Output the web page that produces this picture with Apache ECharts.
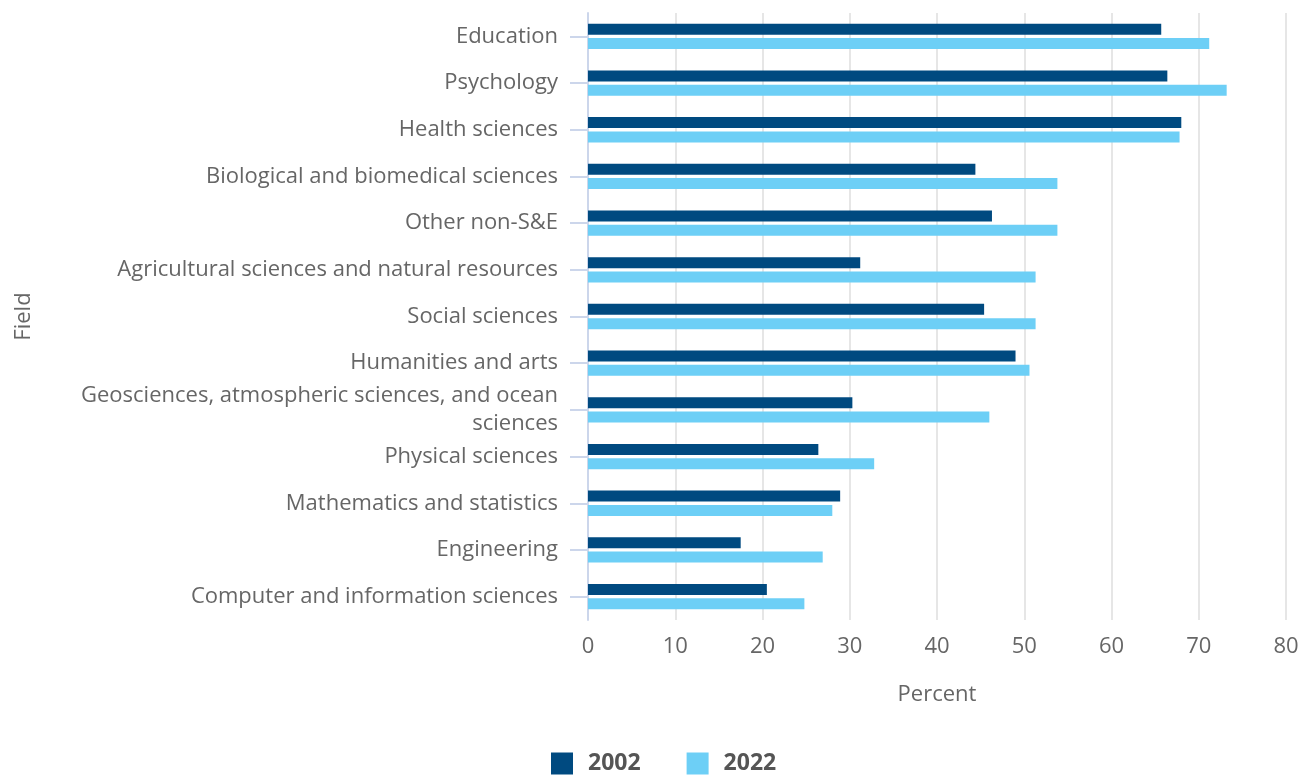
<!DOCTYPE html>
<html>
<head>
<meta charset="utf-8">
<script src="https://cdn.jsdelivr.net/npm/echarts@6/dist/echarts.min.js"></script>
<style>
html,body{margin:0;padding:0;background:#fff;}
#c{width:1311px;height:775px;}
</style>
</head>
<body>
<div id="c"></div>
<script>
const categories = [
  "Education",
  "Psychology",
  "Health sciences",
  "Biological and biomedical sciences",
  "Other non-S&E",
  "Agricultural sciences and natural resources",
  "Social sciences",
  "Humanities and arts",
  "Geosciences, atmospheric sciences, and ocean sciences",
  "Physical sciences",
  "Mathematics and statistics",
  "Engineering",
  "Computer and information sciences"
];
const values2002 = [65.7, 66.4, 68.0, 44.4, 46.3, 31.2, 45.4, 49.0, 30.3, 26.4, 28.9, 17.5, 20.5];
const values2022 = [71.2, 73.2, 67.8, 53.8, 53.8, 51.3, 51.3, 50.6, 46.0, 32.8, 28.0, 26.9, 24.8];
const seriesNames = ["2002", "2022"];

const FONT = "'Open Sans', 'Noto Sans', sans-serif";
const chart = echarts.init(document.getElementById('c'), null, {renderer: 'canvas'});

function wrapLabel(s) {
  const max = 45;
  if (s.length <= max) return s;
  const idx = s.lastIndexOf(' ', max);
  return s.slice(0, idx) + '\n' + s.slice(idx + 1);
}

chart.setOption({
  animation: false,
  grid: {left: 588, right: 25, top: 13, bottom: 155, containLabel: false},
  legend: {
    top: 747,
    left: 546,
    itemWidth: 22,
    itemHeight: 22,
    itemGap: 46,
    icon: 'rect',
    textStyle: {fontFamily: FONT, fontSize: 23, fontWeight: 'bold', color: '#555', padding: [0, 0, 0, 10]},
    data: seriesNames
  },
  xAxis: {
    type: 'value',
    min: 0, max: 80, interval: 10,
    name: 'Percent',
    nameLocation: 'middle',
    nameGap: 64,
    nameTextStyle: {fontFamily: FONT, fontSize: 22, color: '#666'},
    axisLine: {show: false},
    axisTick: {show: false},
    axisLabel: {fontFamily: FONT, fontSize: 22, color: '#666', margin: 16},
    splitLine: {show: true, lineStyle: {color: '#e6e6e6', width: 2}}
  },
  yAxis: {
    type: 'category',
    inverse: true,
    data: categories,
    name: 'Field',
    nameLocation: 'middle',
    nameGap: 553,
    nameRotate: 90,
    nameTextStyle: {fontFamily: FONT, fontSize: 22, color: '#666'},
    axisLine: {show: true, lineStyle: {color: '#ccd6eb', width: 2}},
    axisTick: {show: true, alignWithLabel: true, length: 18, lineStyle: {color: '#ccd6eb', width: 2}},
    axisLabel: {
      fontFamily: FONT, fontSize: 22, color: '#666', margin: 30, lineHeight: 28,
      formatter: wrapLabel
    },
    splitLine: {show: false}
  },
  series: [
    {name: seriesNames[0], type: 'bar', data: values2002, barWidth: 11, barGap: '30%', itemStyle: {color: '#004a80'}},
    {name: seriesNames[1], type: 'bar', data: values2022, barWidth: 11, barGap: '30%', itemStyle: {color: '#6dcff6'}}
  ]
});
</script>
</body>
</html>
